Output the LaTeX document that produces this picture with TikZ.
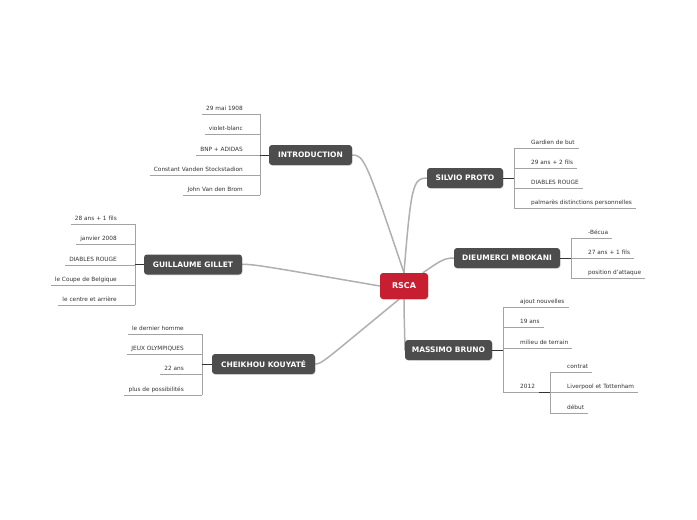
\documentclass[tikz,border=0pt]{standalone}
\usepackage{fontspec}
\setmainfont{DejaVu Sans}
\usepackage{tikz}
\usetikzlibrary{positioning, backgrounds, shadows}

\definecolor{topicgray}{HTML}{4D4D4D}
\definecolor{rscared}{HTML}{C81E32}
\definecolor{trunkgray}{HTML}{B0B0B0}
\definecolor{leafgray}{HTML}{A3A3A3}
\definecolor{stemdark}{HTML}{333333}
\definecolor{leaftext}{HTML}{333333}

\begin{document}
\begin{tikzpicture}[
        x=1pt, y=-1pt,
        central/.style = {rectangle, rounded corners=3pt, fill=rscared, text=white, font=\bfseries\fontsize{8}{9}\selectfont, minimum width=48pt, minimum height=26pt, drop shadow={shadow xshift=0.6pt, shadow yshift=-0.8pt, opacity=0.25}},
        topic/.style = {rectangle, rounded corners=3pt, fill=topicgray, text=white, font=\bfseries\fontsize{7.5}{8}\selectfont, minimum height=20pt, inner xsep=5pt, drop shadow={shadow xshift=0.6pt, shadow yshift=-0.8pt, opacity=0.25}},
        leafl/.style = {anchor=south east, text=leaftext, font=\fontsize{5.8}{6}\selectfont, inner xsep=4pt, inner ysep=2.5pt, text height=4.2pt, text depth=1pt},
        leafr/.style = {leafl, anchor=south west},
        twig/.style = {draw=leafgray, line width=0.6pt},
        stem/.style = {draw=stemdark, line width=1pt},
        trunk/.style = {draw=trunkgray, line width=1.5pt, line cap=round}
    ]
    \useasboundingbox (0,0) rectangle (697,520);

    % Centre and topics
    \node [central] (rsca) at (404,286) {RSCA};
    \node [topic, minimum width=83pt] (intro) at (310.5,155) {INTRODUCTION};
    \node [topic, minimum width=76pt] (proto) at (465,178) {SILVIO PROTO};
    \node [topic, minimum width=106pt] (mbokani) at (507,258) {DIEUMERCI MBOKANI};
    \node [topic, minimum width=87pt] (bruno) at (448.5,350) {MASSIMO BRUNO};
    \node [topic, minimum width=103pt] (kouyate) at (263.5,364) {CHEIKHOU KOUYATÉ};
    \node [topic, minimum width=98pt] (gillet) at (193,264.5) {GUILLAUME GILLET};

    % Trunks
    \begin{scope}[on background layer]
        \fill [white] (0,0) rectangle (697,520);
        \path [trunk] (intro.east) .. controls (364,155) and (366,160) .. (rsca.north);
        \path [trunk] (proto.west) .. controls (413,178) and (411,186) .. (rsca.north);
        \path [trunk] (mbokani.west) .. controls (444,258) and (440,261) .. (rsca.35);
        \path [trunk] (rsca.south) .. controls (404,320) and (405,335) .. (bruno.west);
        \path [trunk] (kouyate.east) .. controls (322,364) and (325,360) .. (rsca.250);
        \path [trunk] (gillet.east) .. controls (252,264) and (258,265) .. (rsca.west);
    \end{scope}

    % INTRODUCTION
    \coordinate (introTop) at (260,114);
    \coordinate (introBot) at (260,195);
    \node [leafl] (i1) at (247,114) {29 mai 1908};
    \node [leafl] (i2) at (247,134) {violet-blanc};
    \node [leafl] (i3) at (247,155) {BNP + ADIDAS};
    \node [leafl] (i4) at (247,175) {Constant Vanden Stockstadion};
    \node [leafl] (i5) at (247,195) {John Van den Brom};
    \path [twig] (introTop) -- (introBot);
    \path [twig] (i1.south west) -- (i1.south west -| introTop);
    \path [twig] (i2.south west) -- (i2.south west -| introTop);
    \path [twig] (i3.south west) -- (i3.south west -| introTop);
    \path [twig] (i4.south west) -- (i4.south west -| introTop);
    \path [twig] (i5.south west) -- (i5.south west -| introTop);
    \path [stem] (intro.west) -- (intro.west -| introTop);

    % GUILLAUME GILLET
    \coordinate (gilletTop) at (135,224);
    \coordinate (gilletBot) at (135,305);
    \node [leafl] (g1) at (121,224) {28 ans + 1 fils};
    \node [leafl] (g2) at (121,244) {janvier 2008};
    \node [leafl] (g3) at (121,265) {DIABLES ROUGE};
    \node [leafl] (g4) at (121,285) {le Coupe de Belgique};
    \node [leafl] (g5) at (121,305) {le centre et arrière};
    \path [twig] (gilletTop) -- (gilletBot);
    \path [twig] (g1.south west) -- (g1.south west -| gilletTop);
    \path [twig] (g2.south west) -- (g2.south west -| gilletTop);
    \path [twig] (g3.south west) -- (g3.south west -| gilletTop);
    \path [twig] (g4.south west) -- (g4.south west -| gilletTop);
    \path [twig] (g5.south west) -- (g5.south west -| gilletTop);
    \path [stem] (gillet.west) -- (gillet.west -| gilletTop);

    % CHEIKHOU KOUYATE
    \coordinate (kouyateTop) at (202,334);
    \coordinate (kouyateBot) at (202,395);
    \node [leafl] (k1) at (188,334) {le dernier homme};
    \node [leafl] (k2) at (188,354) {JEUX OLYMPIQUES};
    \node [leafl] (k3) at (188,374) {22 ans};
    \node [leafl] (k4) at (188,395) {plus de possibilités};
    \path [twig] (kouyateTop) -- (kouyateBot);
    \path [twig] (k1.south west) -- (k1.south west -| kouyateTop);
    \path [twig] (k2.south west) -- (k2.south west -| kouyateTop);
    \path [twig] (k3.south west) -- (k3.south west -| kouyateTop);
    \path [twig] (k4.south west) -- (k4.south west -| kouyateTop);
    \path [stem] (kouyate.west) -- (kouyate.west -| kouyateTop);

    % SILVIO PROTO
    \coordinate (protoTop) at (514,148);
    \coordinate (protoBot) at (514,208);
    \node [leafr] (p1) at (527,148) {Gardien de but};
    \node [leafr] (p2) at (527,168) {29 ans + 2 fils};
    \node [leafr] (p3) at (527,188) {DIABLES ROUGE};
    \node [leafr] (p4) at (527,208) {palmarès distinctions personnelles};
    \path [twig] (protoTop) -- (protoBot);
    \path [twig] (p1.south east) -- (p1.south east -| protoTop);
    \path [twig] (p2.south east) -- (p2.south east -| protoTop);
    \path [twig] (p3.south east) -- (p3.south east -| protoTop);
    \path [twig] (p4.south east) -- (p4.south east -| protoTop);
    \path [stem] (proto.east) -- (proto.east -| protoTop);

    % DIEUMERCI MBOKANI
    \coordinate (mbokaniTop) at (571,238);
    \coordinate (mbokaniBot) at (571,278);
    \node [leafr] (m1) at (584,238) {-Bécua};
    \node [leafr] (m2) at (584,258) {27 ans + 1 fils};
    \node [leafr] (m3) at (584,278) {position d'attaque};
    \path [twig] (mbokaniTop) -- (mbokaniBot);
    \path [twig] (m1.south east) -- (m1.south east -| mbokaniTop);
    \path [twig] (m2.south east) -- (m2.south east -| mbokaniTop);
    \path [twig] (m3.south east) -- (m3.south east -| mbokaniTop);
    \path [stem] (mbokani.east) -- (mbokani.east -| mbokaniTop);

    % MASSIMO BRUNO
    \coordinate (brunoTop) at (503,307);
    \coordinate (brunoBot) at (503,392);
    \node [leafr] (b1) at (516,307) {ajout nouvelles};
    \node [leafr] (b2) at (516,327) {19 ans};
    \node [leafr] (b3) at (516,348) {milieu de terrain};
    \node [leafr] (b4) at (516,392) {2012};
    \path [twig] (brunoTop) -- (brunoBot);
    \path [twig] (b1.south east) -- (b1.south east -| brunoTop);
    \path [twig] (b2.south east) -- (b2.south east -| brunoTop);
    \path [twig] (b3.south east) -- (b3.south east -| brunoTop);
    \path [twig] (b4.south east) -- (b4.south east -| brunoTop);
    \path [stem] (bruno.east) -- (bruno.east -| brunoTop);

    % 2012
    \coordinate (yearTop) at (550,372);
    \coordinate (yearBot) at (550,413);
    \node [leafr] (y1) at (563,372) {contrat};
    \node [leafr] (y2) at (563,392) {Liverpool et Tottenham};
    \node [leafr] (y3) at (563,413) {début};
    \path [twig] (yearTop) -- (yearBot);
    \path [twig] (y1.south east) -- (y1.south east -| yearTop);
    \path [twig] (y2.south east) -- (y2.south east -| yearTop);
    \path [twig] (y3.south east) -- (y3.south east -| yearTop);
    \path [stem, line width=0.9pt] (b4.south east) -- (b4.south east -| yearTop);

\end{tikzpicture}
\end{document}
